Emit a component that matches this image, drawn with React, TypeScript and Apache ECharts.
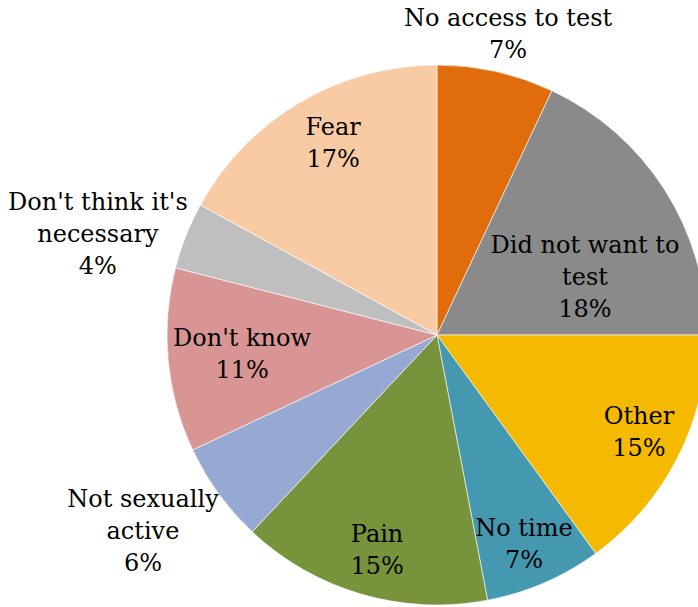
import React, { useEffect, useRef } from "react";
import * as echarts from "echarts";

const categories = [
  "No access to test",
  "Did not want to\ntest",
  "Other",
  "No time",
  "Pain",
  "Not sexually\nactive",
  "Don't know",
  "Don't think it's\nnecessary",
  "Fear",
];
const values = [7, 18, 15, 7, 15, 6, 11, 4, 17];
const colors = [
  "#E06C0C",
  "#8A8A8A",
  "#F5BA00",
  "#4498B0",
  "#77933C",
  "#95A9D2",
  "#D99594",
  "#BFBFBF",
  "#F9CBA5",
];
// label centre offsets from pie centre, in units of the radius
const labelOffsets: [number, number][] = [
  [0.263, -1.115],
  [0.548, -0.215],
  [0.748, 0.359],
  [0.322, 0.774],
  [-0.222, 0.796],
  [-1.089, 0.726],
  [-0.722, 0.07],
  [-1.256, -0.374],
  [-0.385, -0.711],
];

const CX = 437;
const CY = 335;
const R = 270;

export default function App() {
  const ref = useRef<HTMLDivElement>(null);
  useEffect(() => {
    if (!ref.current) return;
    const chart = echarts.init(ref.current, null, { renderer: "svg" });
    chart.setOption({
      animation: false,
      backgroundColor: "#ffffff",
      series: [
        {
          type: "pie",
          center: [CX, CY],
          radius: [0, R],
          startAngle: 90,
          clockwise: true,
          avoidLabelOverlap: false,
          data: categories.map((name, i) => ({
            name,
            value: values[i],
            itemStyle: { color: colors[i] },
          })),
          itemStyle: { borderColor: "#ffffff", borderWidth: 0.6 },
          label: {
            show: true,
            position: "inside",
            formatter: (p: any) => `${p.name}\n${p.value}%`,
            fontFamily: "DejaVu Serif",
            fontSize: 24,
            lineHeight: 32,
            color: "#000000",
            align: "center",
          },
          labelLine: { show: false },
          emphasis: { disabled: true },
          labelLayout: (params: any) => {
            const o = labelOffsets[params.dataIndex];
            return {
              x: CX + o[0] * R,
              y: CY + o[1] * R,
              align: "center",
              verticalAlign: "middle",
            };
          },
        },
      ],
    });
    return () => chart.dispose();
  }, []);
  return (
    <div
      ref={ref}
      style={{ position: "fixed", left: 0, top: 0, width: 698, height: 607 }}
    />
  );
}
